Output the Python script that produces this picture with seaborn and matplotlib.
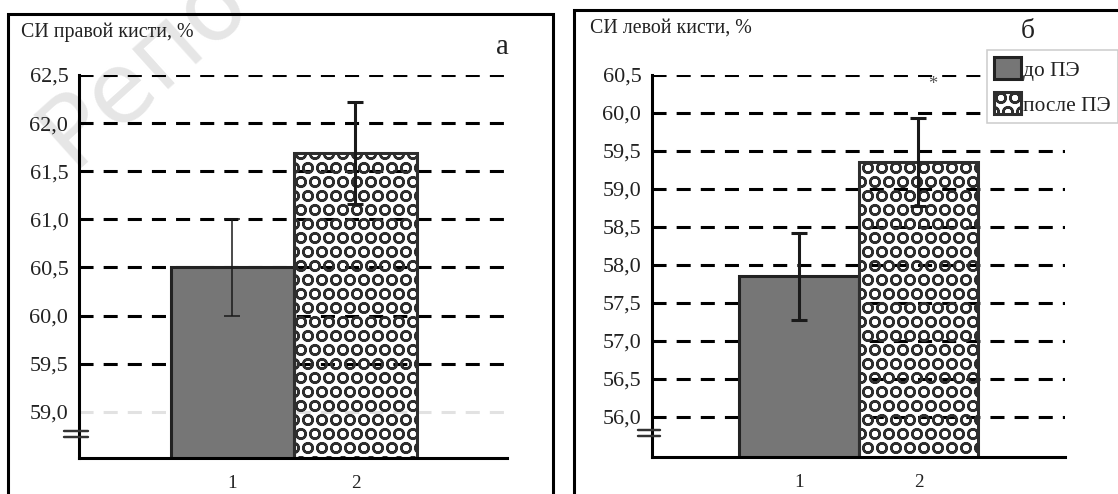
import numpy as np
import seaborn as sns
import matplotlib.pyplot as plt
from matplotlib.patches import Rectangle, Patch

# data
groups = ['1', '2']
legend_labels = ['до ПЭ', 'после ПЭ']

right_means = [60.50, 61.69]
right_err = [0.50, 0.53]
right_ticks = [59.0, 59.5, 60.0, 60.5, 61.0, 61.5, 62.0, 62.5]

left_means = [57.85, 59.36]
left_err = [0.57, 0.58]
left_ticks = [56.0, 56.5, 57.0, 57.5, 58.0, 58.5, 59.0, 59.5, 60.0, 60.5]

W, H, DPI = 1118, 494, 84
K = 110 / DPI  # point sizes were tuned at 110 dpi

sns.set_style('white')
plt.rcParams['font.family'] = ['Liberation Serif', 'DejaVu Serif']
plt.rcParams['hatch.linewidth'] = 1.5 * K

fig = plt.figure(figsize=(W / DPI, H / DPI), dpi=DPI)


def px_box(x0, x1, y0, y1):
    # pixel box (top-left origin) -> figure fraction rect
    return [x0 / W, 1 - y1 / H, (x1 - x0) / W, (y1 - y0) / H]


def fx(x):
    return x / W


def fy(y):
    return 1 - y / H


def fmt(v):
    return f'{v:.1f}'.replace('.', ',')


def draw_panel(ax, means, errs, ticks, ylim, xlim, thin_first=False):
    sns.barplot(x=groups, y=means, hue=groups, palette=['#767676', 'white'],
                saturation=1, width=1.0, legend=False, linewidth=2 * K,
                edgecolor='#222222', ax=ax, zorder=2)
    hatched = ax.patches[1]
    hatched.set_facecolor('none')
    hatched.set_hatch('O')
    hatched.set_edgecolor('#2e2e2e')

    for i in range(len(groups)):
        lw = (1.0 if (thin_first and i == 0) else 2.0) * K
        ax.errorbar(i, means[i], yerr=errs[i], fmt='none', ecolor='#1a1a1a',
                    elinewidth=lw, capsize=5 * K, capthick=lw, zorder=4)

    ax.set_ylim(*ylim)
    ax.set_xlim(*xlim)
    ax.set_yticks(ticks)
    ax.set_yticklabels([fmt(t) for t in ticks])
    for t in ticks:
        ax.axhline(t, color='black', lw=2 * K, dashes=(4.6, 3.3), zorder=1)
    ax.set_axisbelow(True)

    sns.despine(ax=ax)
    for s in ('left', 'bottom'):
        ax.spines[s].set_linewidth(2 * K)
        ax.spines[s].set_color('black')
    ax.tick_params(axis='y', direction='inout', length=8 * K, width=2 * K,
                   labelsize=14.5 * K, pad=3 * K, colors='black')
    ax.tick_params(axis='x', length=0, labelsize=12.5 * K, pad=11 * K)
    for lab in ax.get_yticklabels() + ax.get_xticklabels():
        lab.set_color('#222222')
    ax.set_xlabel('')
    ax.set_ylabel('')
    ax.patch.set_alpha(0)

    # axis break marks near the bottom of the y axis
    for dy in (0.055, 0.07):
        ax.plot([-0.035, 0.02], [dy, dy], transform=ax.transAxes,
                color='#333333', lw=1.6 * K, clip_on=False, zorder=5)


# panel frames
fig.add_artist(Rectangle((fx(8), -0.1), fx(553) - fx(8), fy(14) + 0.1,
                         transform=fig.transFigure, fill=False, lw=2 * K,
                         edgecolor='black'))
fig.add_artist(Rectangle((fx(574), -0.1), 0.6, fy(10) + 0.1,
                         transform=fig.transFigure, fill=False, lw=2 * K,
                         edgecolor='black'))

# faint repository watermark, behind everything
fig.text(fx(72), fy(168), 'Репо', rotation=42, fontsize=64 * K,
         color='#e6e6e6', family='DejaVu Sans', ha='left', va='baseline',
         rotation_mode='anchor', zorder=-5)

ax1 = fig.add_axes(px_box(79, 507, 75, 458))
draw_panel(ax1, right_means, right_err, right_ticks, (58.52, 62.5),
           (-1.248, 2.232), thin_first=True)
# the 59,0 line is nearly washed out in the scan
for ln in ax1.lines:
    if list(ln.get_ydata()) == [59.0, 59.0]:
        ln.set_color('#e2e2e2')

ax2 = fig.add_axes(px_box(652, 1065, 75, 457))
draw_panel(ax2, left_means, left_err, left_ticks, (55.47, 60.5),
           (-1.23, 2.226))
ax2.text(1.12, 60.37, '*', ha='center', va='center', fontsize=12 * K,
         color='#555555')

fig.text(fx(21), fy(32), 'СИ правой кисти, %', fontsize=13 * K,
         va='center', ha='left', color='#222222')
fig.text(fx(590), fy(28), 'СИ левой кисти, %', fontsize=13 * K,
         va='center', ha='left', color='#222222')
fig.text(fx(502), fy(47), 'а', fontsize=19 * K, va='center', ha='center',
         color='#222222')
fig.text(fx(1028), fy(32), 'б', fontsize=18 * K, va='center', ha='center',
         color='#222222')

handles = [Patch(facecolor='#767676', edgecolor='#222222', lw=2 * K),
           Patch(facecolor='white', edgecolor='#2e2e2e', hatch='O',
                 lw=2 * K)]
leg = fig.legend(handles, legend_labels, loc='upper left',
                 bbox_to_anchor=(fx(987), fy(50)), frameon=True,
                 fancybox=False, fontsize=14 * K, handlelength=1.25,
                 handleheight=1.2, handletextpad=0.1, labelspacing=0.55,
                 borderpad=0.35, borderaxespad=0)
leg.get_frame().set_edgecolor('#cccccc')
leg.get_frame().set_linewidth(1 * K)
leg.get_frame().set_facecolor('white')
leg.get_frame().set_alpha(1)
for t in leg.get_texts():
    t.set_color('#222222')

fig.savefig('out.png', dpi=DPI)
